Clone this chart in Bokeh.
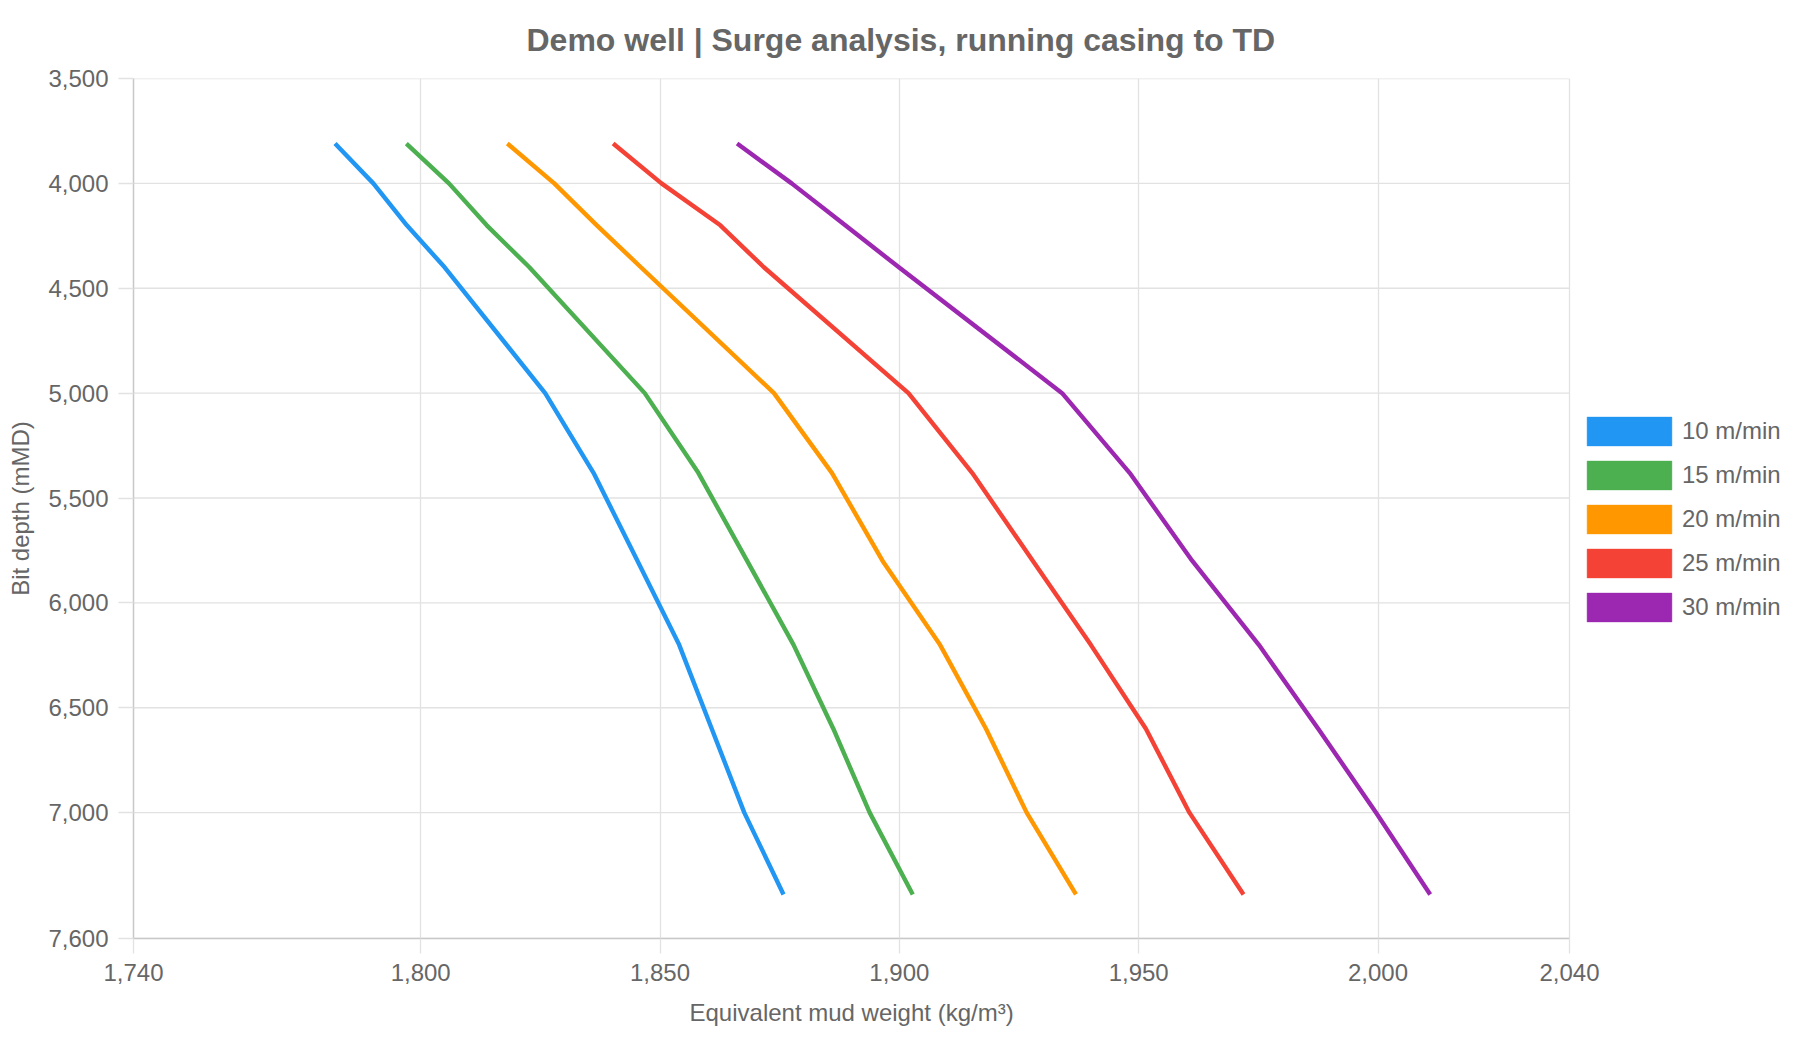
from bokeh.plotting import figure
from bokeh.models import Range1d, FixedTicker, NumeralTickFormatter, Legend, LegendItem, Title
from bokeh.embed import file_html
from bokeh.resources import INLINE

# bit depth (mMD) and equivalent mud weight (kg/m3) per running speed
depth = [3810, 4000, 4200, 4400, 5000, 5380, 5800, 6200, 6600, 7000, 7390]
emw_10 = [1782.1, 1790.1, 1797.1, 1805.0, 1826.0, 1836.1, 1845.3, 1854.0, 1860.8, 1867.6, 1875.8]
emw_15 = [1797.0, 1805.9, 1813.8, 1822.7, 1846.8, 1858.0, 1868.2, 1877.9, 1886.2, 1893.8, 1902.8]
emw_20 = [1818.1, 1827.9, 1836.8, 1846.0, 1873.8, 1885.9, 1896.5, 1908.5, 1918.1, 1926.6, 1936.9]
emw_25 = [1840.2, 1850.3, 1862.6, 1871.7, 1901.9, 1915.2, 1927.9, 1940.0, 1951.5, 1960.6, 1971.9]
emw_30 = [1866.1, 1877.5, 1888.7, 1899.9, 1934.0, 1948.1, 1961.2, 1975.1, 1987.5, 1999.6, 2010.9]

labels = ["10 m/min", "15 m/min", "20 m/min", "25 m/min", "30 m/min"]
colors = ["#2196F3", "#4CAF50", "#FF9800", "#F44336", "#9C27B0"]

x_ticks = [1740, 1800, 1850, 1900, 1950, 2000, 2040]
y_ticks = [3500, 4000, 4500, 5000, 5500, 6000, 6500, 7000, 7600]
x_lo, x_hi = 1740, 2040

FONT = "Liberation Sans"
GREY = "#666666"
GRID = "#e2e2e2"

# the frame runs on past 2040 so the legend can sit inside it, right of the axes
W, H = 1784, 1040
left, right, top, bottom = 133, 4, 78, 101
axes_px = 1436  # width of the 1740..2040 span
x_end = x_lo + (W - left - right) * (x_hi - x_lo) / axes_px

p = figure(width=W, height=H, output_backend="svg", toolbar_location=None,
           x_range=Range1d(x_lo, x_end), y_range=Range1d(7600, 3500),
           min_border_left=left, min_border_right=right, min_border_top=top,
           min_border_bottom=bottom, y_axis_label="Bit depth (mMD)")
p.outline_line_color = None
p.background_fill_color = "white"
p.border_fill_color = "white"

# title
p.title.text = "Demo well | Surge analysis, running casing to TD"
p.title.text_font = FONT
p.title.text_font_size = "32px"
p.title.text_font_style = "bold"
p.title.text_color = GREY
p.title.align = "left"
p.title.offset = 393
p.title.vertical_align = "middle"
p.title.standoff = 40

# axes
p.xaxis.ticker = FixedTicker(ticks=x_ticks)
p.yaxis.ticker = FixedTicker(ticks=y_ticks)
p.xaxis.bounds = (x_lo, x_hi)
for ax in (p.xaxis, p.yaxis):
    ax.formatter = NumeralTickFormatter(format="0,0")
    ax.axis_line_color = "#c8c8c8"
    ax.axis_line_width = 1.5
    ax.major_tick_line_color = GRID
    ax.major_tick_line_width = 1.3
    ax.major_tick_in = 0
    ax.major_tick_out = 15
    ax.minor_tick_line_color = None
    ax.minor_tick_out = 0
    ax.major_label_text_font = FONT
    ax.major_label_text_font_size = "24px"
    ax.major_label_text_color = GREY
    ax.axis_label_text_font = FONT
    ax.axis_label_text_font_size = "24px"
    ax.axis_label_text_font_style = "normal"
    ax.axis_label_text_color = GREY
p.xaxis.major_label_standoff = 10
p.yaxis.major_label_standoff = 10
p.yaxis.axis_label_standoff = 11

# x axis title centred under the 1740..2040 span, not under the whole frame
p.add_layout(Title(text="Equivalent mud weight (kg/m³)", align="left", offset=556,
                   vertical_align="middle", standoff=28, text_font=FONT,
                   text_font_size="24px", text_font_style="normal", text_color=GREY),
             "below")

# grid: vertical lines from the ticker, horizontal ones stop at 2040
p.xgrid.ticker = FixedTicker(ticks=x_ticks)
p.xgrid.grid_line_color = GRID
p.xgrid.grid_line_width = 1.3
p.ygrid.visible = False
p.segment(x0=x_lo, x1=x_hi, y0=y_ticks, y1=y_ticks, line_color=GRID, line_width=1.3)

# curves
series = [emw_10, emw_15, emw_20, emw_25, emw_30]
items = []
for vals, lab, col in zip(series, labels, colors):
    p.line(vals, depth, line_color=col, line_width=4.4, line_join="round")
    sw = p.quad(left=[float("nan")], right=[float("nan")], top=[float("nan")],
                bottom=[float("nan")], fill_color=col, line_color=col, line_alpha=0.45)
    items.append(LegendItem(label=lab, renderers=[sw]))

legend = Legend(items=items, location=(axes_px + 7, 313))
legend.glyph_width = 106
legend.glyph_height = 36
legend.spacing = 8
legend.padding = 0
legend.margin = 0
legend.label_standoff = 0
legend.label_text_font = FONT
legend.label_text_font_size = "24px"
legend.label_text_color = GREY
legend.border_line_color = None
legend.background_fill_alpha = 0
p.add_layout(legend)

open("out.html", "w").write(file_html(p, INLINE))
